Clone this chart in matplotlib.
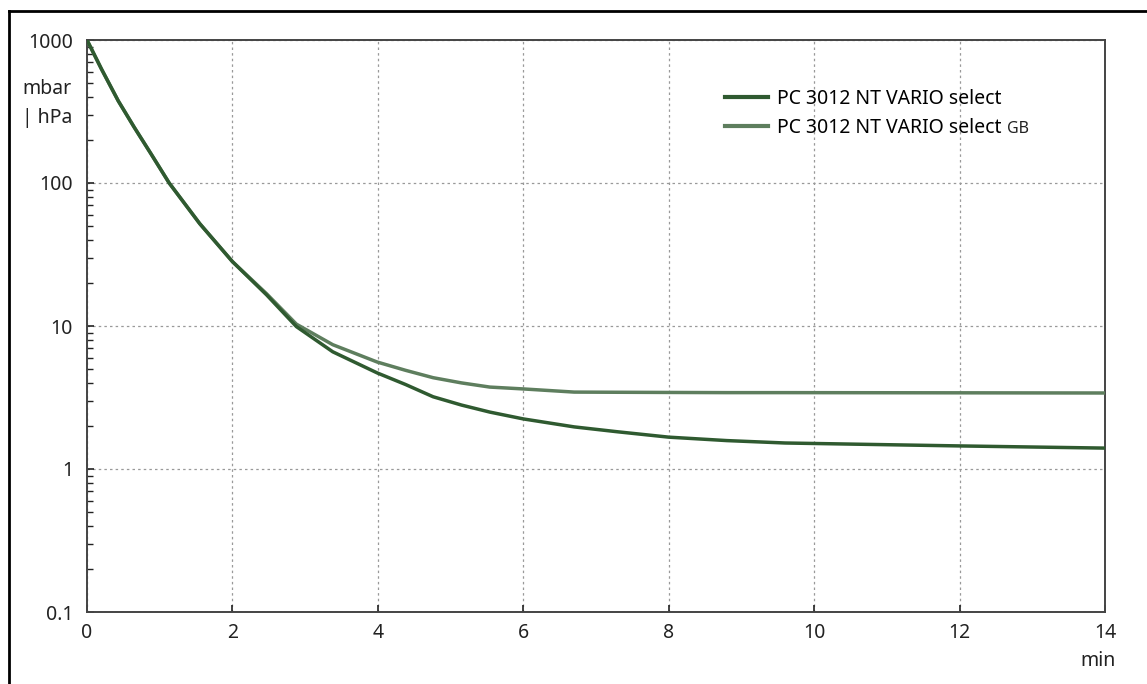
import matplotlib
matplotlib.use("Agg")
import matplotlib.pyplot as plt
from matplotlib.lines import Line2D
from matplotlib.ticker import LogLocator, FixedLocator, FuncFormatter, NullFormatter

plt.rcParams['font.family'] = ['Noto Sans', 'DejaVu Sans']

# time in minutes
t = [0, 0.2, 0.43, 0.65, 0.88, 1.13, 1.55, 2.0, 2.47, 2.88, 3.38, 3.99, 4.38, 4.76, 5.15,
     5.54, 6.0, 6.7, 7.3, 8.0, 8.8, 9.6, 12, 14]
# pressure in mbar
p_select = [1000, 625, 375, 245, 160, 100, 52, 28.2, 16.5, 9.9, 6.6, 4.7, 3.9, 3.2, 2.8,
            2.5, 2.24, 1.97, 1.82, 1.67, 1.58, 1.52, 1.45, 1.40]
p_select_gb = [1000, 625, 375, 245, 160, 100, 52, 28.2, 16.8, 10.3, 7.4, 5.6, 4.9, 4.35, 4.0,
               3.74, 3.63, 3.45, 3.44, 3.43, 3.42, 3.42, 3.41, 3.40]

labels = ["PC 3012 NT VARIO select", "PC 3012 NT VARIO select"]
colors = ["#2f5a30", "#5e7e5e"]

W, H = 1147, 684
FS = 14
fig = plt.figure(figsize=(W / 100, H / 100), dpi=100)
ax = fig.add_axes([87 / W, 1 - 612 / H, (1105 - 87) / W, (612 - 40) / H])

ax.plot(t, p_select_gb, color=colors[1], lw=2.5, label=labels[1], zorder=3)
ax.plot(t, p_select, color=colors[0], lw=2.5, label=labels[0], zorder=4)

ax.set_yscale("log")
ax.set_xlim(0, 14)
ax.set_ylim(0.1, 1000)
ax.xaxis.set_major_locator(FixedLocator(range(0, 15, 2)))
ax.yaxis.set_major_locator(FixedLocator([0.1, 1, 10, 100, 1000]))
ax.yaxis.set_major_formatter(FuncFormatter(lambda v, pos: "0.1" if v < 1 else f"{int(round(v))}"))
ax.yaxis.set_minor_locator(LogLocator(base=10, subs=range(2, 10)))
ax.yaxis.set_minor_formatter(NullFormatter())

ax.grid(True, which="major", color="#999999", linestyle=(0, (2, 2.5)), linewidth=0.9)
ax.tick_params(axis="both", which="major", direction="in", length=5, width=1.2,
               labelsize=FS, colors="#222222")
ax.tick_params(axis="y", which="minor", direction="in", length=4, width=1.0, color="#222222")
ax.tick_params(axis="x", which="both", top=False, pad=8)
ax.tick_params(axis="y", which="both", right=False, pad=10)
for s in ax.spines.values():
    s.set_color("#444444")
    s.set_linewidth(1.4)

handles = [Line2D([], [], color=colors[0], lw=3), Line2D([], [], color=colors[1], lw=3)]
leg = ax.legend(handles, labels, loc="upper left", bbox_to_anchor=(0.627, 0.914),
                frameon=False, fontsize=FS, handlelength=2.2, handletextpad=0.45,
                borderpad=0, borderaxespad=0, labelspacing=0.45)

fig.text(72 / W, 1 - 89 / H, "mbar", ha="right", va="center", fontsize=FS, color="#222222")
fig.text(72 / W, 1 - 118 / H, "| hPa", ha="right", va="center", fontsize=FS, color="#222222")
fig.text(1116 / W, 1 - 661 / H, "min", ha="right", va="center", fontsize=FS, color="#222222")

# smaller "GB" suffix after second legend entry
fig.canvas.draw()
bb = leg.get_texts()[1].get_window_extent()
fig.text((bb.x1 + 6) / W, (bb.y0 + bb.y1) / 2 / H - 0.002, "GB", fontsize=11.5, color="#222222",
         ha="left", va="center")

# outer frame
fig.add_artist(Line2D([9 / W, 9 / W], [0, 1 - 11 / H], color="black", lw=2.0))
fig.add_artist(Line2D([9 / W, 1], [1 - 11 / H, 1 - 11 / H], color="black", lw=2.0))

fig.savefig("out.png", dpi=100)
